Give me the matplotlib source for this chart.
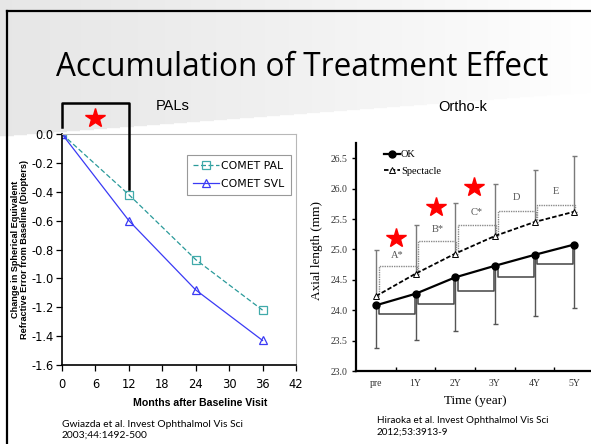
import matplotlib
matplotlib.use("Agg")
import matplotlib.pyplot as plt
import numpy as np
from matplotlib.lines import Line2D

plt.rcParams['axes.unicode_minus'] = False

# ---- left panel: COMET (PALs) ----
months = [0, 12, 24, 36]
comet_pal = [0.0, -0.42, -0.87, -1.22]
comet_svl = [0.0, -0.60, -1.08, -1.43]
month_ticks = [0, 6, 12, 18, 24, 30, 36, 42]
change_ticks = [-1.6, -1.4, -1.2, -1.0, -0.8, -0.6, -0.4, -0.2, 0.0]

# ---- right panel: Ortho-k ----
years = ['pre', '1Y', '2Y', '3Y', '4Y', '5Y']
ok_len = [24.08, 24.27, 24.54, 24.73, 24.91, 25.08]
ok_low = [23.38, 23.51, 23.66, 23.78, 23.91, 24.03]
spec_len = [24.23, 24.60, 24.93, 25.22, 25.45, 25.62]
spec_high = [24.99, 25.40, 25.77, 26.08, 26.31, 26.53]
ok_brackets = [23.93, 24.11, 24.32, 24.54, 24.76]
spec_brackets = [24.72, 25.13, 25.40, 25.63, 25.73]
bracket_labels = ['A*', 'B*', 'C*', 'D', 'E']
label_heights = [24.90, 25.32, 25.60, 25.85, 25.96]
star_x = [0.52, 1.52, 2.48]
star_y = [25.19, 25.69, 26.03]
axial_ticks = [23.0, 23.5, 24.0, 24.5, 25.0, 25.5, 26.0, 26.5]

W, H = 591, 444
fig = plt.figure(figsize=(W / 100, H / 100), dpi=100)

# slide background: grey header band fading to white
bg = fig.add_axes([0, 0, 1, 1], zorder=-10)
xx, yy = np.meshgrid(np.arange(W), np.arange(H))
shade = 0.905 + 0.095 * (xx / W) ** 1.2
img = np.where(yy < 137 - 0.075 * xx, shade, 1.0)
bg.imshow(np.dstack([img] * 3), extent=[0, W, H, 0], aspect='auto')
bg.set_xlim(0, W)
bg.set_ylim(H, 0)
bg.axis('off')

# slide frame
fig.add_artist(Line2D([7 / W, 7 / W], [0, 1 - 11 / H], color='black', lw=1.6))
fig.add_artist(Line2D([7 / W, 1], [1 - 11 / H, 1 - 11 / H], color='black', lw=1.6))

fig.text(302 / W, 1 - 67 / H, 'Accumulation of Treatment Effect', family='Open Sans',
         fontsize=22.7, ha='center', va='center')
fig.text(173 / W, 1 - 106 / H, 'PALs', family='Liberation Sans', fontsize=10.5,
         ha='center', va='center')
fig.text(463 / W, 1 - 107 / H, 'Ortho-k', family='Liberation Sans', fontsize=10.5,
         ha='center', va='center')

# ---------------- left chart ----------------
ax1 = fig.add_axes([62 / W, 1 - 365 / H, 234 / W, 231 / H])
ax1.set_facecolor('white')
ax1.plot(months, comet_pal, color='#2a9a9a', lw=0.9, dashes=(4, 2), marker='s',
         ms=5.5, mfc='none', mec='#40aaaa', mew=0.9, label='COMET PAL')
ax1.plot(months, comet_svl, color='#3a3af5', lw=0.9, marker='^', ms=5.5,
         mfc='none', mec='#3a3af5', mew=0.9, label='COMET SVL')
ax1.set_xlim(0, 42)
ax1.set_ylim(-1.6, 0.0)
ax1.set_xticks(month_ticks)
ax1.set_yticks(change_ticks)
ax1.set_yticklabels([f'{v:.1f}' for v in change_ticks])
ax1.tick_params(direction='out', length=4, width=0.9, labelsize=8.3, pad=2)
ax1.tick_params(axis='x', pad=5)
for lab in ax1.get_xticklabels() + ax1.get_yticklabels():
    lab.set_family('DejaVu Sans')
ax1.spines['left'].set_linewidth(1.2)
ax1.spines['bottom'].set_linewidth(1.2)
for s in ['top', 'right']:
    ax1.spines[s].set_color('#b8b8b8')
    ax1.spines[s].set_linewidth(0.8)
ax1.set_xlabel('Months after Baseline Visit', family='Liberation Sans', fontweight='bold',
               fontsize=7.6)
ax1.xaxis.set_label_coords(0.59, -0.145)
ax1.set_ylabel('Change in Spherical Equivalent\nRefractive Error from Baseline (Diopters)',
               family='Liberation Sans', fontweight='bold', fontsize=6.6, linespacing=1.0)
ax1.yaxis.set_label_coords(-0.142, 0.5)
leg1 = ax1.legend(loc='upper right', bbox_to_anchor=(1.0, 0.932), fancybox=False,
                  edgecolor='#999999', framealpha=1, prop={'family': 'DejaVu Sans', 'size': 7.8},
                  handlelength=2.4, handletextpad=0.2, borderpad=0.55, labelspacing=0.75)
leg1.get_frame().set_linewidth(0.8)

# bracket from baseline to 12 months with a star
bracket_top = 0.215
ax1.plot([months[0], months[0], months[1], months[1]],
         [0.05, bracket_top, bracket_top, comet_pal[1] + 0.04],
         color='black', lw=1.8, clip_on=False, zorder=5)
ax1.plot([(months[0] + months[1]) / 2], [0.11], marker='*', color='#ff0000', ms=15,
         clip_on=False, zorder=6)

# ---------------- right chart ----------------
ax2 = fig.add_axes([356 / W, 1 - 371 / H, 238 / W, 228 / H])
ax2.patch.set_alpha(0)
x = np.arange(len(years))
ok_arr = np.array(ok_len)
spec_arr = np.array(spec_len)

ax2.errorbar(x, spec_arr, yerr=[np.zeros(len(x)), np.array(spec_high) - spec_arr],
             fmt='none', ecolor='#7a7a7a', elinewidth=1.0, capsize=1.8, capthick=1.0, zorder=2)
ax2.errorbar(x, ok_arr, yerr=[ok_arr - np.array(ok_low), np.zeros(len(x))],
             fmt='none', ecolor='#555555', elinewidth=1.0, capsize=1.8, capthick=1.0, zorder=2)

for i in range(len(years) - 1):
    x0, x1 = x[i] + 0.07, x[i + 1] + 0.03
    yb = spec_brackets[i]
    ax2.plot([x0, x0, x1, x1], [spec_arr[i] + 0.04, yb, yb, spec_arr[i + 1] + 0.04],
             color='#8a8a8a', lw=1.0, ls=(0, (1, 0.7)), zorder=2)
    yo = ok_brackets[i]
    ax2.plot([x0, x0, x1 - 0.05, x1 - 0.05], [ok_arr[i] - 0.05, yo, yo, ok_arr[i + 1] - 0.05],
             color='#444444', lw=1.1, zorder=2)
    ax2.text((x[i] + x[i + 1]) / 2 + 0.05, label_heights[i], bracket_labels[i],
             family='Liberation Serif', fontsize=7.5, color='#555555', ha='center', va='center')

ax2.plot(x, spec_arr, color='black', lw=1.3, dashes=(2.5, 1.2), marker='^', ms=4.5,
         mfc='white', mec='black', mew=0.7, label='Spectacle', zorder=3)
ax2.plot(x, ok_arr, color='black', lw=1.6, marker='o', ms=5, mfc='black', mec='black',
         label='OK', zorder=4)
ax2.plot(star_x, star_y, ls='none', marker='*', color='#ff0000', ms=15, zorder=6)

ax2.set_xlim(-0.5, 5.5)
ax2.set_ylim(23.0, 26.75)
ax2.set_xticks(x)
ax2.set_xticklabels(years)
ax2.set_xticks(x + 0.5, minor=True)
ax2.set_yticks(axial_ticks)
ax2.set_yticklabels([f'{v:.1f}' for v in axial_ticks])
ax2.tick_params(axis='x', which='major', length=0, pad=6, labelsize=7, labelcolor='#333333')
ax2.tick_params(axis='x', which='minor', direction='in', length=3, width=1.0)
ax2.tick_params(axis='y', direction='out', length=3, width=1.0, labelsize=7,
                labelcolor='#333333', pad=3)
for lab in ax2.get_xticklabels() + ax2.get_yticklabels():
    lab.set_family('Liberation Serif')
for s in ['top', 'right']:
    ax2.spines[s].set_visible(False)
ax2.spines['left'].set_linewidth(1.6)
ax2.spines['bottom'].set_linewidth(1.6)
ax2.set_ylabel('Axial length (mm)', family='Liberation Serif', fontsize=9.5)
ax2.yaxis.set_label_coords(-0.14, 0.53)
ax2.set_xlabel('Time (year)', family='Liberation Serif', fontsize=9.5)
ax2.xaxis.set_label_coords(0.5, -0.105)
h, l = ax2.get_legend_handles_labels()
ax2.legend(h[::-1], l[::-1], loc='upper left', bbox_to_anchor=(0.08, 1.01), frameon=False,
           prop={'family': 'Liberation Serif', 'size': 7.5}, handlelength=1.5,
           handletextpad=0.1, labelspacing=0.7)

# references
fig.text(62 / W, 1 - 420 / H, 'Gwiazda et al. Invest Ophthalmol Vis Sci\n2003;44:1492-500',
         family='Lato', fontsize=7.4, va='top', linespacing=1.25)
fig.text(377 / W, 1 - 416 / H, 'Hiraoka et al. Invest Ophthalmol Vis Sci\n2012;53:3913-9',
         family='Lato', fontsize=7.1, va='top', linespacing=1.45)

fig.savefig('out.png', dpi=100)
